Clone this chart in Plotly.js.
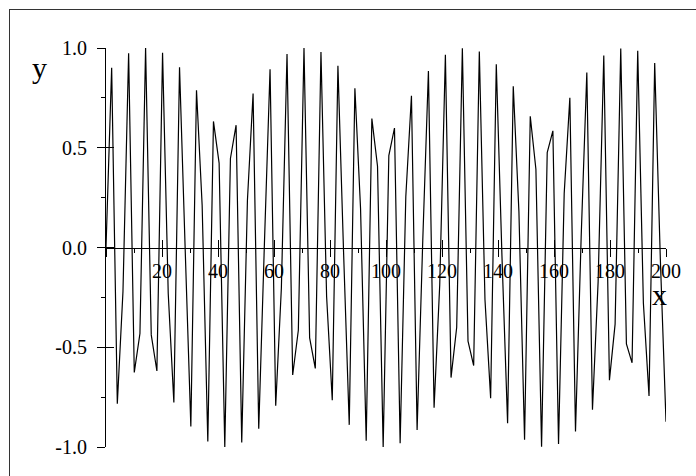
<!DOCTYPE html>
<html>
<head>
<meta charset="utf-8">
<script src="https://cdn.plot.ly/plotly-3.0.1.min.js"></script>
<style>
  html, body { margin: 0; padding: 0; background: #fff; }
  #wrap { position: relative; width: 696px; height: 476px; overflow: hidden; }
  #frame { position: absolute; left: 9px; top: 9px; right: -5px; bottom: -5px;
           border-left: 1px solid #333; border-top: 1px solid #333; pointer-events: none; z-index: 5; }
  #chart { position: absolute; left: 0; top: 0; width: 696px; height: 476px; }
</style>
</head>
<body>
<div id="wrap">
  <div id="chart"></div>
  <div id="frame"></div>
</div>
<script>
// sample positions and values (100 vertices of the polyline)
const xValues = [
  0, 2.02, 4.04, 6.06, 8.08, 10.10, 12.12, 14.14, 16.16, 18.18,
  20.20, 22.22, 24.24, 26.26, 28.28, 30.30, 32.32, 34.34, 36.36, 38.38,
  40.40, 42.42, 44.44, 46.46, 48.48, 50.51, 52.53, 54.55, 56.57, 58.59,
  60.61, 62.63, 64.65, 66.67, 68.69, 70.71, 72.73, 74.75, 76.77, 78.79,
  80.81, 82.83, 84.85, 86.87, 88.89, 90.91, 92.93, 94.95, 96.97, 98.99,
  101.01, 103.03, 105.05, 107.07, 109.09, 111.11, 113.13, 115.15, 117.17, 119.19,
  121.21, 123.23, 125.25, 127.27, 129.29, 131.31, 133.33, 135.35, 137.37, 139.39,
  141.41, 143.43, 145.45, 147.47, 149.49, 151.52, 153.54, 155.56, 157.58, 159.60,
  161.62, 163.64, 165.66, 167.68, 169.70, 171.72, 173.74, 175.76, 177.78, 179.80,
  181.82, 183.84, 185.86, 187.88, 189.90, 191.92, 193.94, 195.96, 197.98, 200
];
const yValues = [
  0.000, 0.901, -0.783, -0.221, 0.974, -0.626, -0.431, 1.000, -0.438, -0.619,
  0.976, -0.229, -0.777, 0.904, -0.008, -0.897, 0.788, 0.212, -0.972, 0.632,
  0.423, -1.000, 0.446, 0.613, -0.978, 0.237, 0.772, -0.908, 0.017, 0.893,
  -0.793, -0.204, 0.970, -0.639, -0.415, 1.000, -0.453, -0.606, 0.980, -0.246,
  -0.766, 0.911, -0.025, -0.889, 0.798, 0.196, -0.968, 0.646, 0.407, -1.000,
  0.461, 0.599, -0.981, 0.254, 0.761, -0.915, 0.034, 0.885, -0.803, -0.187,
  0.966, -0.652, -0.400, 0.999, -0.469, -0.592, 0.983, -0.262, -0.755, 0.918,
  -0.042, -0.881, 0.808, 0.179, -0.964, 0.658, 0.392, -0.999, 0.476, 0.585,
  -0.985, 0.270, 0.750, -0.922, 0.051, 0.877, -0.813, -0.171, 0.962, -0.665,
  -0.384, 0.998, -0.483, -0.578, 0.986, -0.278, -0.744, 0.925, -0.059, -0.873
];

const xTickVals = [0, 20, 40, 60, 80, 100, 120, 140, 160, 180, 200];
const xTickText = ['', '20', '40', '60', '80', '100', '120', '140', '160', '180', '200'];
const yTickVals = [-1, -0.5, 0, 0.5, 1];
const yTickText = ['-1.0', '-0.5', '0.0', '0.5', '1.0'];

const FONT = 'Liberation Serif, Times New Roman, serif';

const trace = {
  x: xValues, y: yValues,
  type: 'scatter', mode: 'lines',
  line: { color: '#000', width: 1.2 },
  hoverinfo: 'none', showlegend: false, cliponaxis: false
};

const commonX = {
  range: [0, 200], showgrid: false, zeroline: false,
  tickmode: 'array', tickvals: xTickVals,
  ticklen: 8, tickwidth: 1, tickcolor: '#000',
  minor: { tickmode: 'linear', tick0: 0, dtick: 10, ticklen: 4, tickwidth: 1, tickcolor: '#000', showgrid: false }
};
const commonY = {
  range: [-1, 1], showgrid: false, zeroline: false,
  tickmode: 'array', tickvals: yTickVals,
  ticklen: 8, tickwidth: 1, tickcolor: '#000',
  minor: { tickmode: 'linear', tick0: 0, dtick: 0.25, ticklen: 4, tickwidth: 1, tickcolor: '#000', showgrid: false }
};

const layout = {
  width: 696, height: 476,
  margin: { l: 106, r: 30, t: 48, b: 29, pad: 0 },
  paper_bgcolor: 'rgba(0,0,0,0)', plot_bgcolor: 'rgba(0,0,0,0)',
  font: { family: FONT, size: 20, color: '#000' },
  xaxis: Object.assign({}, commonX, {
    anchor: 'free', position: 0.5, side: 'bottom',
    ticks: 'outside', showline: true, linecolor: '#000', linewidth: 1,
    ticktext: xTickText, showticklabels: true,
    tickfont: { family: FONT, size: 20, color: '#000' },
    ticklabelstandoff: -3
  }),
  xaxis2: Object.assign({}, commonX, {
    overlaying: 'x', anchor: 'free', position: 0.5, side: 'bottom',
    ticks: 'inside', showline: false, showticklabels: false
  }),
  yaxis: Object.assign({}, commonY, {
    anchor: 'x', side: 'left',
    ticks: 'outside', showline: true, linecolor: '#000', linewidth: 1,
    ticktext: yTickText, showticklabels: true,
    tickfont: { family: FONT, size: 20, color: '#000' },
    ticklabelstandoff: 6
  }),
  yaxis2: Object.assign({}, commonY, {
    overlaying: 'y', anchor: 'x', side: 'left',
    ticks: 'inside', showline: false, showticklabels: false
  }),
  annotations: [
    { text: 'y', xref: 'paper', yref: 'paper', x: -0.118, y: 0.952,
      xanchor: 'center', yanchor: 'middle', showarrow: false,
      font: { family: FONT, size: 30, color: '#000' } },
    { text: 'x', xref: 'paper', yref: 'paper', x: 0.9875, y: 0.383,
      xanchor: 'center', yanchor: 'middle', showarrow: false,
      font: { family: FONT, size: 30, color: '#000' } }
  ]
};

// invisible helper trace so the overlay axes (crossing tick marks) are drawn
const t2 = { x: [0], y: [0], xaxis: 'x2', yaxis: 'y2', type: 'scatter', mode: 'none', hoverinfo: 'none', showlegend: false };

Plotly.newPlot('chart', [trace, t2], layout, { displayModeBar: false, staticPlot: true });
</script>
</body>
</html>
